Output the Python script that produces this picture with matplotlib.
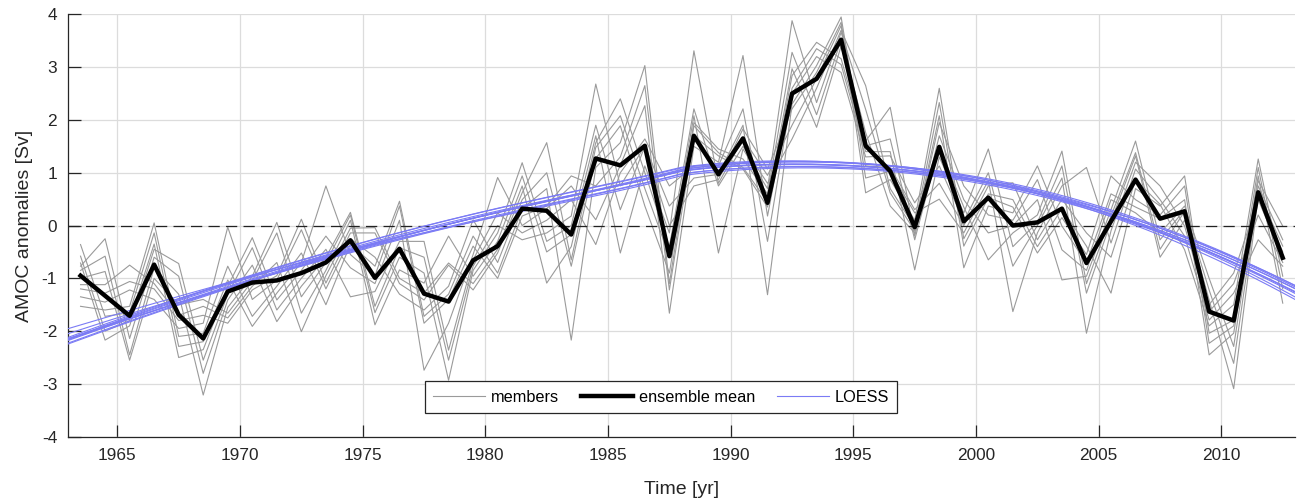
import numpy as np
import matplotlib
matplotlib.use("Agg")
import matplotlib.pyplot as plt

plt.rcParams['font.family'] = ['Liberation Sans', 'DejaVu Sans']
plt.rcParams['axes.unicode_minus'] = False

# years 1963..2012, plotted at mid-year
years = np.arange(1963, 2013) + 0.5

ens_mean = [-0.95, -1.33, -1.71, -0.74, -1.69, -2.14, -1.25, -1.08, -1.04, -0.90,
            -0.70, -0.28, -0.99, -0.44, -1.29, -1.44, -0.66, -0.39, 0.32, 0.28,
            -0.17, 1.27, 1.14, 1.51, -0.58, 1.70, 0.97, 1.65, 0.43, 2.50,
            2.78, 3.52, 1.51, 1.03, -0.03, 1.49, 0.08, 0.53, 0.00, 0.06,
            0.32, -0.71, 0.08, 0.87, 0.13, 0.27, -1.63, -1.80, 0.63, -0.61]

# individual ensemble members
m01 = [-0.36, -1.72, -1.65, -0.14, -2.29, -2.20, -1.03, -1.91, -1.28, -0.70,
       0.75, -0.55, -0.95, 0.37, -1.85, -1.40, -0.39, -1.00, 0.18, 0.37,
       0.94, 0.75, 1.30, 2.65, -1.22, 1.70, 1.32, 1.07, 0.35, 2.84,
       3.47, 3.16, 1.51, 1.64, -0.27, 1.49, 0.35, -0.65, -0.14, 0.20,
       1.41, -1.10, 0.18, 1.38, -0.45, 0.27, -1.41, -3.09, 0.55, -0.50]
m02 = [-0.77, -0.25, -2.14, -0.60, -0.96, -2.80, -1.41, -0.75, -1.82, -1.15,
       -0.60, 0.25, -1.53, -0.42, -0.60, -2.55, -0.77, 0.00, -0.27, -0.14,
       0.18, 2.68, 0.75, 1.51, 0.37, 0.90, 0.97, 1.90, -1.31, 2.30,
       3.03, 3.95, 1.13, 1.10, 0.30, 0.80, 0.00, 0.85, -1.63, -0.14,
       0.75, 1.10, -0.33, 1.07, 0.49, -0.20, -1.79, -1.28, -0.27, -0.77]
m03 = [-1.12, -1.12, -0.75, -1.10, -1.70, -1.53, -1.75, -1.15, -0.70, -2.01,
       -0.95, -0.05, -0.04, -1.00, -1.28, -0.71, -1.10, -0.45, 0.75, -1.09,
       -0.40, 1.57, 2.40, 1.00, -0.40, 2.21, 0.75, 1.50, 0.80, 1.64,
       2.60, 3.70, 2.65, 0.70, -0.03, 2.33, -0.39, 0.53, 0.35, -0.52,
       0.15, -0.55, 0.94, 0.49, 0.20, 0.75, -2.23, -1.90, 0.94, -1.47]
m04 = [-1.53, -1.60, -1.53, 0.05, -2.10, -2.04, -0.77, -1.72, -1.15, -0.52,
       -1.50, -0.35, -0.77, 0.46, -1.72, -1.30, -0.20, -0.90, 0.32, 0.70,
       -2.17, 1.10, 1.57, 3.03, -1.10, 1.89, 1.38, 1.10, 0.45, 2.97,
       1.86, 3.40, 1.60, 2.24, -0.20, 1.70, 0.49, -0.14, 0.00, 0.49,
       -1.03, -0.96, 0.30, 1.60, -0.27, 0.30, -1.22, -2.61, 0.63, -0.39]
m05 = [-0.71, -2.17, -1.90, -0.45, -0.72, -2.55, -1.30, -0.42, -1.60, -1.00,
       -0.45, -1.35, -1.25, -0.30, -0.30, -2.36, -0.65, 0.24, -0.14, 0.10,
       0.49, -0.36, 1.00, 1.64, 0.75, 1.13, 1.13, 2.21, -0.30, 2.50,
       3.20, 2.90, 1.30, 1.32, 0.43, 1.13, 0.08, 1.00, -0.77, 0.00,
       0.90, -2.04, -0.10, 1.20, 0.75, -0.01, -1.63, -1.10, 0.20, -0.70]
m06 = [-1.00, -0.87, -2.55, -1.00, -1.50, -1.40, -1.66, -1.05, -0.14, -1.66,
       -0.85, 0.10, -1.88, -0.84, -1.09, -0.20, -0.96, -0.30, 0.94, -0.50,
       -0.17, 1.70, -0.52, 1.13, -0.14, 3.31, 0.80, 1.65, 0.95, 1.90,
       2.78, 3.79, 0.62, 0.87, 0.10, 2.60, -0.25, 0.60, 0.49, -0.40,
       0.32, -0.39, -1.28, 0.70, 0.37, 0.94, -2.04, -1.79, 1.10, -1.20]
m07 = [-1.35, -1.45, -1.22, -1.40, -1.95, -1.85, -0.03, -1.40, -1.03, -0.08,
       -1.20, -0.25, -0.60, -1.30, -1.60, -1.15, 0.11, -0.70, 0.49, 1.00,
       -0.77, 1.27, 1.89, 0.37, -0.90, 1.95, 1.45, 1.26, 0.60, 3.28,
       2.10, 3.52, 1.76, 0.37, -0.14, 1.95, 0.75, 0.20, 0.10, 0.87,
       -0.46, -0.85, 0.49, 0.24, -0.14, 0.37, -1.00, -2.29, 0.75, -0.27]
m08 = [-0.58, -2.00, -1.80, -0.35, -2.50, -2.35, -1.15, -0.23, -1.41, -0.85,
       -0.20, -0.80, -1.10, 0.10, -2.74, -1.85, -0.55, 0.91, 0.00, 0.32,
       0.75, 0.11, 1.14, 2.27, -1.66, 1.50, 1.20, 3.22, 0.18, 2.60,
       3.35, 3.05, 1.40, 1.40, -0.84, 1.30, 0.24, 1.45, -0.40, 0.06,
       1.13, -1.28, 0.08, 1.32, -0.60, 0.10, -1.50, -0.90, 0.49, -0.61]
m09 = [-0.85, -0.58, -2.45, -0.80, -1.30, -3.21, -1.55, -0.96, 0.06, -1.35,
       -0.70, 0.20, -1.65, -0.60, -0.90, -2.93, -0.85, -0.14, 1.19, -0.30,
       0.00, 1.90, 0.30, 1.50, 0.00, 0.75, 0.87, 1.83, 1.07, 2.21,
       2.90, 3.85, 0.90, 1.03, 0.24, 0.50, -0.14, 0.75, 0.81, -0.27,
       0.50, -0.14, -0.60, 0.87, 0.40, -0.46, -1.90, -1.50, 1.26, -0.96]
m10 = [-1.20, -1.28, -1.06, -1.20, -1.80, -1.70, -1.85, -1.22, -0.95, 0.12,
       -1.09, -0.14, -0.14, -1.10, -1.41, -0.75, -1.22, -0.52, 0.62, 1.57,
       -0.65, 1.48, 2.08, 0.70, -0.58, 2.08, -0.52, 1.45, 0.70, 3.88,
       2.33, 3.66, 2.20, 0.62, -0.10, 2.08, -0.80, 0.37, 0.24, 1.13,
       -0.01, -0.71, 0.60, 0.35, 0.13, 0.49, -2.45, -2.04, 0.85, -0.01]
members = [m01, m02, m03, m04, m05, m06, m07, m08, m09, m10]

yticks = [-4, -3, -2, -1, 0, 1, 2, 3, 4]
xticks = [1965, 1970, 1975, 1980, 1985, 1990, 1995, 2000, 2005, 2010]


def loess(x, y, xq, bw=1.1):
    # local quadratic regression with tricube weights
    x = np.asarray(x)
    y = np.asarray(y)
    out = np.empty(len(xq))
    for i, x0 in enumerate(xq):
        d = np.abs(x - x0)
        h = d.max() * bw
        w = np.clip(1 - (d / h) ** 3, 0, None) ** 3
        c = np.polyfit(x - x0, y, 2, w=np.sqrt(w))
        out[i] = c[-1]
    return out


fig = plt.figure(figsize=(12.98, 5.04), dpi=100)
ax = fig.add_axes([0.0526, 0.1335, 0.9451, 0.838])

xq = np.linspace(1963, 2013, 201)
for i, m in enumerate(members):
    ax.plot(years, m, color='#9a9a9a', lw=0.8, zorder=2,
            label='members' if i == 0 else None)
ax.axhline(0, color='#222222', lw=0.9, ls=(0, (9, 5)), zorder=3)
for i, m in enumerate(members):
    ax.plot(xq, loess(years, m, xq), color='#7b7bf5', lw=0.8, zorder=3,
            label='LOESS' if i == 0 else None)
ax.plot(years, ens_mean, color='black', lw=3.2, zorder=4, label='ensemble mean')

ax.set_xlim(1963, 2013)
ax.set_ylim(-4, 4)
ax.set_xticks(xticks)
ax.set_yticks(yticks)
ax.grid(True, color='#dcdcdc', lw=0.9)
ax.set_axisbelow(True)
for s in ['top', 'right']:
    ax.spines[s].set_visible(False)
for s in ['left', 'bottom']:
    ax.spines[s].set_color('#262626')
    ax.spines[s].set_linewidth(0.9)
ax.tick_params(direction='in', length=9, width=0.9, color='#262626',
               labelsize=12.4, labelcolor='#262626', pad=8)
ax.set_xlabel('Time [yr]', fontsize=14, color='#262626', labelpad=13)
ax.set_ylabel('AMOC anomalies [Sv]', fontsize=14, color='#262626', labelpad=6)

h, l = ax.get_legend_handles_labels()
order = [l.index('members'), l.index('ensemble mean'), l.index('LOESS')]
leg = ax.legend([h[o] for o in order], [l[o] for o in order], ncol=3,
                loc='lower left', bbox_to_anchor=(0.291, 0.057),
                borderaxespad=0, fontsize=11.7, handlelength=3.2,
                handletextpad=0.35, columnspacing=1.35,
                fancybox=False, framealpha=1,
                edgecolor='#262626', borderpad=0.5)
leg.get_frame().set_linewidth(0.9)
leg.set_zorder(10)

fig.savefig('out.png', dpi=100)
